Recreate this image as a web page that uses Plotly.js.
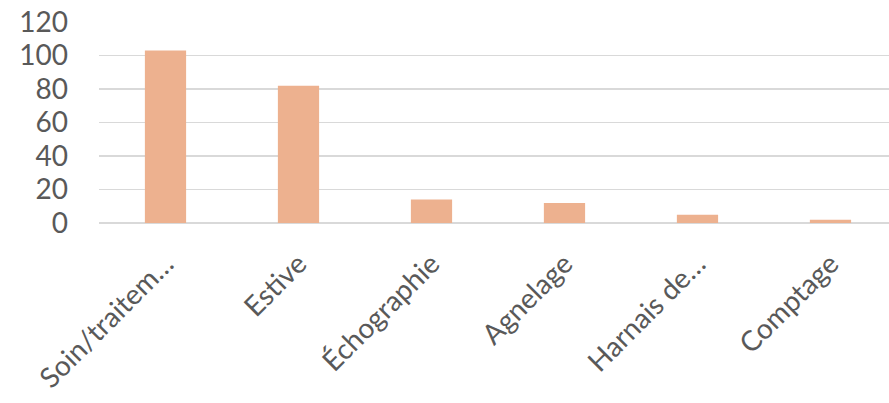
<!DOCTYPE html>
<html>
<head>
<meta charset="utf-8">
<script src="https://cdn.plot.ly/plotly-3.0.1.min.js"></script>
<style>html,body{margin:0;padding:0;background:#fff;}#chart{width:889px;height:403px;}</style>
</head>
<body>
<div id="chart"></div>
<script>
const categories = ["Soin/traitem…", "Estive", "Échographie", "Agnelage", "Harnais de…", "Comptage"];
const values = [103, 82, 14, 12, 5, 2];
const yTicks = [0, 20, 40, 60, 80, 100, 120];

const fontFamily = "Lato, 'Open Sans', 'Liberation Sans', sans-serif";
const trace = {
  type: "bar",
  x: categories,
  y: values,
  width: 0.31,
  marker: {color: "#EDB18F", line: {width: 0}},
  hoverinfo: "none"
};
const layout = {
  width: 889,
  height: 403,
  margin: {l: 99, r: 0, t: 22, b: 180},
  paper_bgcolor: "#ffffff",
  plot_bgcolor: "#ffffff",
  showlegend: false,
  font: {family: fontFamily, color: "#595959", size: 28},
  xaxis: {
    type: "category",
    range: [-0.5, 5.44],
    tickangle: -45,
    showgrid: false,
    zeroline: false,
    showline: false,
    ticks: "",
    ticklabelstandoff: 18,
    tickfont: {family: fontFamily, size: 28, color: "#595959"}
  },
  yaxis: {
    range: [0, 120],
    tickvals: yTicks,
    ticktext: yTicks.map(String),
    showgrid: true,
    gridcolor: "#D9D9D9",
    gridwidth: 1.5,
    zeroline: true,
    zerolinecolor: "#D9D9D9",
    zerolinewidth: 1.5,
    showline: false,
    ticks: "",
    ticklabelstandoff: 30,
    tickfont: {family: fontFamily, size: 28, color: "#595959"}
  }
};
Plotly.newPlot("chart", [trace], layout, {staticPlot: true, displayModeBar: false});
</script>
</body>
</html>
